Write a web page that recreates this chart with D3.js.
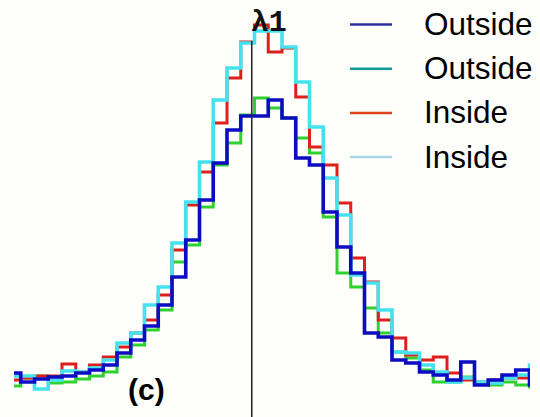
<!DOCTYPE html>
<html>
<head>
<meta charset="utf-8">
<script src="https://cdn.jsdelivr.net/npm/d3@7"></script>
<style>
  html, body { margin: 0; padding: 0; background: #fefefb; }
  #chart { width: 540px; height: 417px; }
</style>
</head>
<body>
<div id="chart"></div>
<script>
// Bin counts, one entry per bin (bin index 0..38)
const blueCounts  = [5.4, 3.6, 4.2, 4.6, 4.8, 5.4, 6.0, 7.0, 9.4, 12.0, 14.8, 19.0, 24.6, 32.0, 40.0, 47.4, 54.0, 56.8, 56.8, 60.0, 56.4, 48.4, 47.0, 37.6, 30.6, 25.4, 13.4, 12.6, 8.0, 7.4, 5.6, 5.0, 4.0, 7.6, 3.0, 4.0, 5.0, 6.0, 3.0];
const greenCounts = [2.8, 4.4, 4.8, 3.4, 3.6, 4.2, 4.8, 5.6, 8.6, 11.0, 14.0, 18.0, 27.6, 31.0, 38.6, 47.0, 51.4, 57.0, 60.4, 58.4, 56.4, 52.4, 49.4, 36.6, 25.4, 22.6, 18.4, 13.4, 9.6, 8.4, 6.0, 3.6, 3.6, 4.6, 3.4, 3.0, 3.6, 3.0, 2.6];
const redCounts   = [4.0, 4.4, 4.8, 4.8, 7.2, 5.6, 7.0, 8.6, 10.6, 13.4, 16.0, 21.0, 30.0, 39.0, 45.6, 55.4, 64.4, 71.6, 75.0, 69.6, 70.4, 60.6, 50.6, 47.0, 39.4, 28.4, 23.6, 16.0, 12.4, 9.0, 8.0, 8.6, 5.4, 4.0, 3.6, 4.0, 4.4, 4.4, 4.0];
const cyanCounts  = [4.8, 4.8, 2.2, 4.0, 5.8, 5.6, 6.4, 8.0, 11.4, 13.4, 19.0, 22.6, 31.4, 39.6, 47.6, 60.0, 66.4, 71.4, 73.8, 73.8, 70.6, 63.6, 54.6, 44.4, 37.0, 25.0, 23.4, 18.0, 9.6, 9.4, 7.0, 5.6, 3.6, 4.4, 3.6, 3.4, 4.4, 5.0, 7.0];

const legendLabels = ['Outside', 'Outside', 'Inside', 'Inside'];
const markerPos = 17.8;   // position of the λ1 line, in bins
const markerLabel = 'λ1';
const panelLabel = '(c)';

const w = 540, h = 417;

const svg = d3.select('#chart')
  .append('svg')
  .attr('width', w)
  .attr('height', h);

// Scales
const nBins = blueCounts.length;
const xScale = d3.scaleLinear().domain([0, 38]).range([7, 529.5]);
const yScale = d3.scaleLinear().domain([0, 74]).range([400, 30]);

svg.append('defs').append('clipPath')
  .attr('id', 'plot-clip')
  .append('rect')
  .attr('x', 14).attr('y', 0)
  .attr('width', 516).attr('height', h);

// step outline: point at each bin's left edge, closed at the last right edge
const stepLine = d3.line()
  .x(d => xScale(d[0]))
  .y(d => yScale(d[1]))
  .curve(d3.curveStepAfter);

function stepPoints(counts) {
  const pts = counts.map((c, i) => [i, c]);
  pts.push([nBins, counts[nBins - 1]]);
  return pts;
}

const series = [
  { counts: greenCounts, color: '#2fd12f', width: 3 },
  { counts: redCounts,   color: '#de1f1c', width: 3 },
  { counts: cyanCounts,  color: '#45e2ee', width: 3.6 },
  { counts: blueCounts,  color: '#0c0cc2', width: 3.6 }
];

const plot = svg.append('g').attr('clip-path', 'url(#plot-clip)');

plot.selectAll('path.hist')
  .data(series)
  .enter()
  .append('path')
  .attr('class', 'hist')
  .attr('d', d => stepLine(stepPoints(d.counts)))
  .attr('fill', 'none')
  .attr('stroke', d => d.color)
  .attr('stroke-width', d => d.width)
  .attr('stroke-linejoin', 'miter');

// λ1 marker line + label
svg.append('line')
  .attr('x1', xScale(markerPos)).attr('x2', xScale(markerPos))
  .attr('y1', 41).attr('y2', h)
  .attr('stroke', '#2a2a2a')
  .attr('stroke-width', 1.6);

svg.append('text')
  .attr('x', xScale(markerPos) - 1)
  .attr('y', 31)
  .attr('font-family', '"Liberation Mono", "DejaVu Sans Mono", monospace')
  .attr('font-weight', 'bold')
  .attr('font-size', '30px')
  .attr('fill', '#111')
  .text(markerLabel);

// Legend
const legendColors = ['#2c2ca0', '#12999b', '#e0421c', '#a8d6e4'];
const legend = svg.append('g');
legendLabels.forEach((lab, i) => {
  const y = 24.5 + i * 44.2;
  legend.append('line')
    .attr('x1', 350).attr('x2', 392)
    .attr('y1', y).attr('y2', y)
    .attr('stroke', legendColors[i])
    .attr('stroke-width', 2.5);
  legend.append('text')
    .attr('x', 424)
    .attr('y', y + 10.5)
    .attr('font-family', '"Liberation Sans", Arial, sans-serif')
    .attr('font-size', '31.5px')
    .attr('fill', '#000')
    .text(lab);
});

svg.append('text')
  .attr('x', 128)
  .attr('y', 400)
  .attr('font-family', '"Liberation Sans", Arial, sans-serif')
  .attr('font-weight', 'bold')
  .attr('font-size', '30px')
  .attr('fill', '#000')
  .text(panelLabel);
</script>
</body>
</html>
